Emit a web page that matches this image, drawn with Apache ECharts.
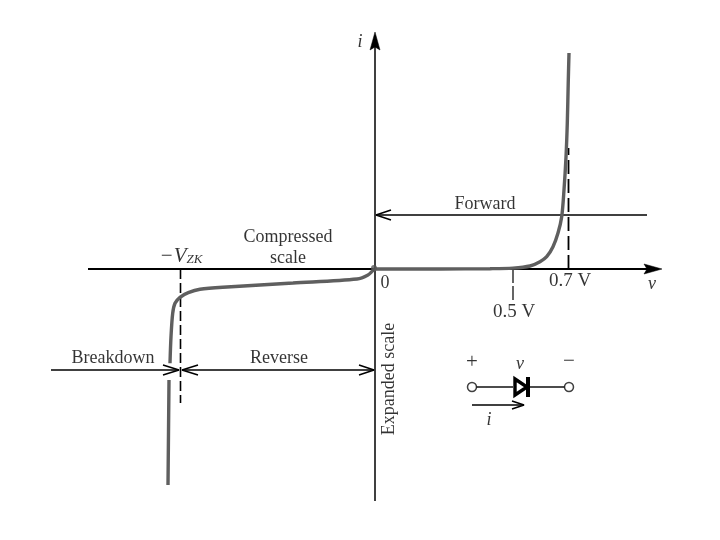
<!DOCTYPE html>
<html><head><meta charset="utf-8">
<style>html,body{margin:0;padding:0;background:#fff}#c{width:720px;height:540px}</style>
<script src="https://cdn.jsdelivr.net/npm/echarts@6/dist/echarts.min.js"></script>
</head><body><div id="c"></div>
<script>
// Diagram units: origin of the i-v axes at (0,0), one unit = one picture pixel (the figure has no numeric scale).
const forwardCurve = [[0,0],[65,0],[115,0.3],[138,0.9],[155,3],[165,7.3],[171.7,12.3],[178,22.3],[183,36],[186.7,52.3],[189,79],[191,112],[192.3,146],[193.3,189],[194,216]];
const reverseCurve = [[0,0],[-2,-1.5],[-7,-6],[-18,-10],[-82,-14],[-148,-18],[-175,-20.3],[-186.7,-23.7],[-195,-28.3],[-200,-34.3],[-202.3,-44.3],[-204,-67.7],[-205,-94.3],null,[-206,-111],[-207,-216]];
const vAxisLine = [[-287,0],[283,0]];
const iAxisLine = [[0,-232],[0,233]];
const dashZK = [[-194.5,0],[-194.5,-134]];
const dash07 = [[193.5,0],[193.5,121]];
const dash05 = [[138,0],[138,-31]];
const forwardLine = [[272,54],[1,54]];
const breakdownLine = [[-324,-101],[-196,-101]];
const reverseLine = [[-193,-101],[-1,-101]];
const wireLeft = [[101,-118],[138,-118]];
const wireRight = [[153,-118],[190,-118]];
const currentLine = [[97,-136],[149,-136]];
const filledHeads = [
  [[287,0],[269,5],[272,0],[269,-5]],
  [[0,237],[-5,219],[0,222],[5,219]]
];
const openHeads = [
  [[16,59],[1,54],[16,49]],
  [[-212,-96],[-196,-101],[-212,-106]],
  [[-177,-96],[-193,-101],[-177,-106]],
  [[-16,-96],[-1,-101],[-16,-106]],
  [[137,-132],[149,-136],[137,-140]]
];
const diodeTriangle = [[140,-110],[152,-118],[140,-126]];
const diodeBar = [[153,-108],[153,-128]];
const terminals = [[97,-118],[194,-118]];
const textLabels = [
  ['Forward',110,65,18,'normal',0],['Compressed',-87,32,18,'normal',0],['scale',-87,11,18,'normal',0],
  ['0',10,-14,18,'normal',0],['0.7 V',195,-12,19,'normal',0],['0.5 V',139,-43,19,'normal',0],
  ['v',277,-15,18,'italic',0],['i',-15,227,18,'italic',0],['Breakdown',-262,-89,18,'normal',0],
  ['Reverse',-96,-89,18,'normal',0],['Expanded scale',14,-110,18,'normal',90],['+',97,-93,21,'normal',0],
  ['v',145,-95,18,'italic',0],['\u2212',194,-92,21,'normal',0],['i',114,-151,18,'italic',0]
];
const zkLabel = [[-194,13]];

const serif = '"Liberation Serif","DejaVu Serif",serif';
const line = (data, width, color, extra) => Object.assign({
  type:'line', data, symbol:'none', silent:true, animation:false,
  lineStyle:{width, color, cap:'butt'}, z:2
}, extra || {});
const series = [
  line(vAxisLine,1.8,'#000'), line(iAxisLine,1.5,'#000'),
  line(dashZK,1.6,'#000',{lineStyle:{width:1.6,color:'#000',type:[10,4]}}),
  line(dash07,1.8,'#000',{lineStyle:{width:1.8,color:'#000',type:[14,5]}}),
  line(dash05,1.2,'#000',{lineStyle:{width:1.2,color:'#000',type:[14,3]}}),
  line(forwardLine,1.4,'#000'), line(breakdownLine,1.4,'#000'), line(reverseLine,1.4,'#000'),
  line(wireLeft,1.4,'#111'), line(wireRight,1.4,'#111'), line(currentLine,1.4,'#000'),
  line(forwardCurve,3.4,'#5f5f5f',{smooth:0.3,z:4}),
  line(reverseCurve,3.4,'#5f5f5f',{smooth:0.3,z:4,connectNulls:false})
];
openHeads.forEach(h => series.push(line(h,1.5,'#000')));
series.push(line(diodeBar,4,'#000'));
series.push({
  type:'custom', silent:true, animation:false, coordinateSystem:'cartesian2d', z:5,
  data:filledHeads.map((_,i)=>[i]), encode:{x:0,y:0},
  renderItem(p,api){
    const pts = filledHeads[p.dataIndex].map(c=>api.coord(c));
    return {type:'polygon',shape:{points:pts},style:{fill:'#000',stroke:'#000',lineWidth:0.5}};
  }
});
series.push({
  type:'custom', silent:true, animation:false, coordinateSystem:'cartesian2d', z:5,
  data:[[0]], encode:{x:0,y:0},
  renderItem(p,api){
    return {type:'polygon',shape:{points:diodeTriangle.map(c=>api.coord(c))},style:{fill:'#fff',stroke:'#000',lineWidth:3.4,lineJoin:'miter'}};
  }
});
series.push({
  type:'scatter', data:terminals, symbol:'circle', symbolSize:9, silent:true, animation:false, z:6,
  itemStyle:{color:'#fff',borderColor:'#111',borderWidth:1.5}
});
series.push({
  type:'scatter', data:[[-1,1]], symbol:'circle', symbolSize:6, silent:true, animation:false, z:6,
  itemStyle:{color:'#555'}
});
series.push({
  type:'scatter', silent:true, animation:false, symbolSize:0, z:7,
  data:textLabels.map(t=>({
    value:[t[1],t[2]],
    label:{show:true,position:'inside',formatter:t[0],fontFamily:serif,fontSize:t[3],fontStyle:t[4],rotate:t[5],color:'#000',align:'center',verticalAlign:'middle'}
  }))
});
series.push({
  type:'scatter', silent:true, animation:false, symbolSize:0, z:7,
  data:zkLabel.map(v=>({
    value:v,
    label:{show:true,position:'inside',formatter:'{a|\u2212V}{b|ZK}',align:'center',verticalAlign:'middle',
      rich:{a:{fontFamily:serif,fontSize:21,fontStyle:'italic',color:'#000'},
            b:{fontFamily:serif,fontSize:13,fontStyle:'italic',color:'#000',verticalAlign:'bottom',padding:[6,0,0,0]}}}
  }))
});
const chart = echarts.init(document.getElementById('c'),null,{renderer:'canvas'});
chart.setOption({
  backgroundColor:'#fff', animation:false, tooltip:{show:false}, legend:{show:false},
  grid:{left:0,right:0,top:0,bottom:0},
  xAxis:{type:'value',min:-375,max:345,show:false},
  yAxis:{type:'value',min:-271,max:269,show:false},
  series
});
</script></body></html>
